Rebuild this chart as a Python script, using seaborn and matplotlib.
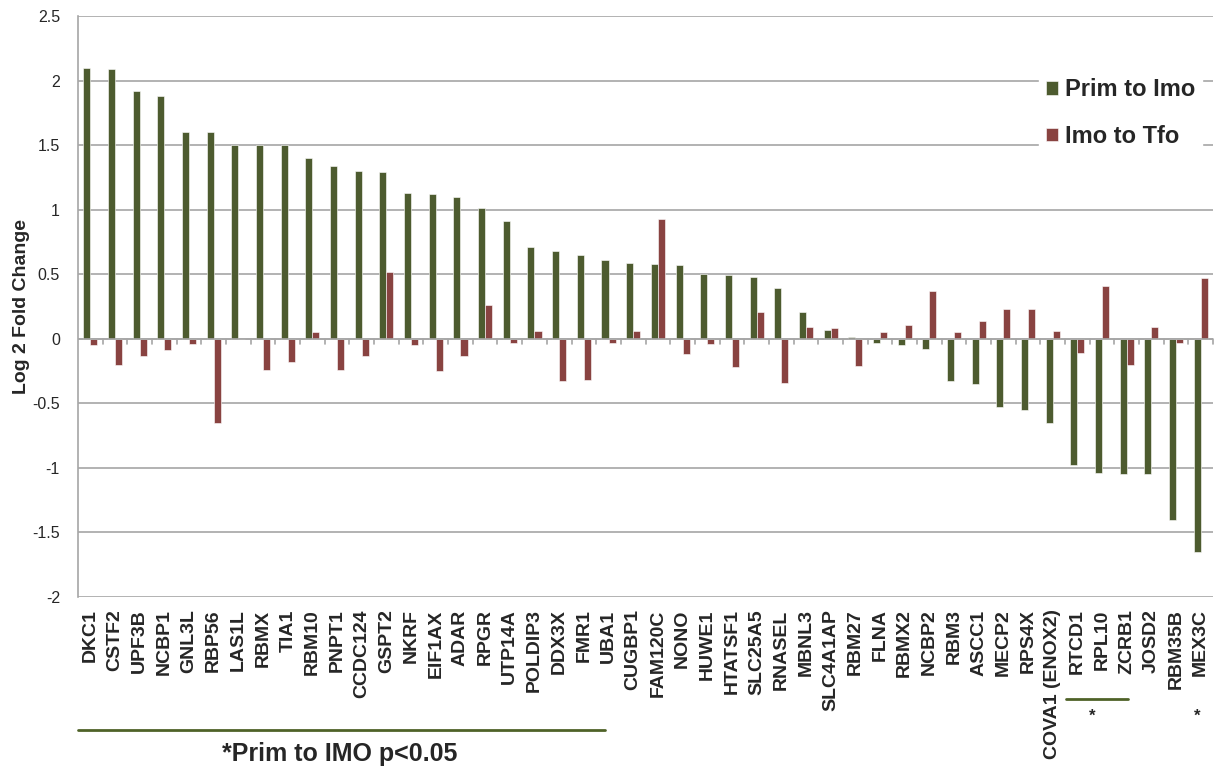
import pandas as pd
import seaborn as sns
import matplotlib
import matplotlib.pyplot as plt

matplotlib.use('Agg')

# Gene order along the x axis
genes = ["DKC1", "CSTF2", "UPF3B", "NCBP1", "GNL3L", "RBP56", "LAS1L", "RBMX", "TIA1",
         "RBM10", "PNPT1", "CCDC124", "GSPT2", "NKRF", "EIF1AX", "ADAR", "RPGR", "UTP14A",
         "POLDIP3", "DDX3X", "FMR1", "UBA1", "CUGBP1", "FAM120C", "NONO", "HUWE1",
         "HTATSF1", "SLC25A5", "RNASEL", "MBNL3", "SLC4A1AP", "RBM27", "FLNA", "RBMX2",
         "NCBP2", "RBM3", "ASCC1", "MECP2", "RPS4X", "COVA1 (ENOX2)", "RTCD1", "RPL10",
         "ZCRB1", "JOSD2", "RBM35B", "MEX3C"]

# Log2 fold change
prim_to_imo = [2.10, 2.09, 1.92, 1.88, 1.60, 1.60, 1.50, 1.50, 1.50,
               1.40, 1.34, 1.30, 1.29, 1.13, 1.12, 1.10, 1.01, 0.91,
               0.71, 0.68, 0.65, 0.61, 0.59, 0.58, 0.57, 0.50,
               0.49, 0.48, 0.39, 0.21, 0.07, 0.01, -0.03, -0.05,
               -0.08, -0.33, -0.35, -0.53, -0.55, -0.65, -0.98, -1.04,
               -1.05, -1.05, -1.40, -1.65]
imo_to_tfo = [-0.05, -0.20, -0.13, -0.09, -0.04, -0.65, 0.00, -0.24, -0.18,
              0.05, -0.24, -0.13, 0.52, -0.05, -0.25, -0.13, 0.26, -0.03,
              0.06, -0.33, -0.32, -0.03, 0.06, 0.93, -0.12, -0.04,
              -0.22, 0.21, -0.34, 0.09, 0.08, -0.21, 0.05, 0.11,
              0.37, 0.05, 0.14, 0.23, 0.23, 0.06, -0.11, 0.41,
              -0.20, 0.09, -0.03, 0.47]

series_names = ["Prim to Imo", "Imo to Tfo"]
colors = ["#4F6228", "#953735"]

df = pd.DataFrame({
    "gene": genes * 2,
    "value": prim_to_imo + imo_to_tfo,
    "series": [series_names[0]] * len(genes) + [series_names[1]] * len(genes),
})

sns.set_style("white")
plt.rcParams['font.family'] = ['Liberation Sans', 'DejaVu Sans']

fig = plt.figure(figsize=(12.27, 7.75), dpi=100)
ax = fig.add_axes([0.0636, 0.2297, 0.925, 0.7497])

sns.barplot(data=df, x="gene", y="value", hue="series", palette=colors,
            width=0.57, gap=0, edgecolor="white", linewidth=0.4, ax=ax)

ax.set_ylim(-2, 2.5)
ax.set_xlim(-0.5, len(genes) - 0.5)
ax.set_yticks([-2, -1.5, -1, -0.5, 0, 0.5, 1, 1.5, 2, 2.5])
ax.set_yticklabels(["-2", "-1.5", "-1", "-0.5", "0", "0.5", "1", "1.5", "2", "2.5"], fontsize=11.5)
ax.yaxis.grid(True, color="#A6A6A6", linewidth=1.2)
ax.set_axisbelow(True)
for s in ["top", "right", "bottom"]:
    ax.spines[s].set_visible(False)
ax.spines["left"].set_color("#A6A6A6")
ax.spines["left"].set_linewidth(1.2)
ax.tick_params(axis="y", length=5, color="#A6A6A6", pad=8)

# zero axis with category-boundary ticks
ax.axhline(0, color="#A6A6A6", linewidth=1.2, zorder=1)
for i in range(len(genes)):
    ax.plot([i + 0.5, i + 0.5], [0, -0.04], color="#A6A6A6", linewidth=1.2,
            clip_on=False, zorder=1)

ax.set_xticks(range(len(genes)))
ax.set_xticklabels(genes, rotation=90, fontsize=14, fontweight="bold")
ax.tick_params(axis="x", length=0, pad=9)
ax.set_xlabel("")
ax.set_ylabel("Log 2 Fold Change", fontsize=14, fontweight="bold", labelpad=2)

leg = ax.legend(loc="upper left", bbox_to_anchor=(0.836, 0.925), frameon=True,
                fontsize=17, handlelength=0.5, handleheight=0.5, handletextpad=0.3,
                labelspacing=1.0, borderpad=0.3)
leg.get_frame().set_edgecolor("white")
leg.get_frame().set_facecolor("white")
leg.get_frame().set_alpha(1)
for t in leg.get_texts():
    t.set_fontweight("bold")

# significance annotations
fig.add_artist(plt.Line2D([78 / 1227, 605 / 1227], [1 - 730 / 775, 1 - 730 / 775],
                          color="#4F6228", linewidth=2))
fig.text(340 / 1227, 1 - 754 / 775, "*Prim to IMO p<0.05", ha="center", va="center",
         fontsize=18, fontweight="bold")
fig.add_artist(plt.Line2D([1066 / 1227, 1128 / 1227], [1 - 699 / 775, 1 - 699 / 775],
                          color="#4F6228", linewidth=2))
fig.text(1092 / 1227, 1 - 716 / 775, "*", ha="center", va="center", fontsize=12, fontweight="bold")
fig.text(1197 / 1227, 1 - 716 / 775, "*", ha="center", va="center", fontsize=12, fontweight="bold")

fig.savefig("out.png", dpi=100)
plt.close(fig)
